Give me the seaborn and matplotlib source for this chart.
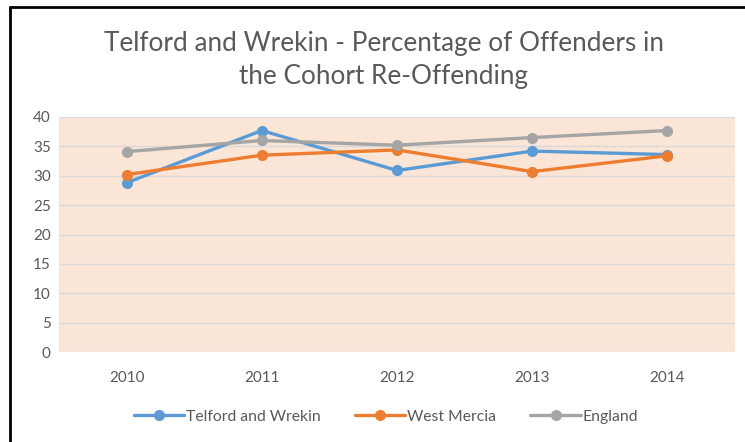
import matplotlib
matplotlib.use("Agg")
import matplotlib.pyplot as plt
from matplotlib.lines import Line2D
import numpy as np
import pandas as pd
import seaborn as sns

years = ["2010", "2011", "2012", "2013", "2014"]
series_names = ["Telford and Wrekin", "West Mercia", "England"]
telford = [28.8, 37.7, 30.9, 34.2, 33.6]
west_mercia = [30.2, 33.5, 34.4, 30.7, 33.4]
england = [34.1, 36.0, 35.2, 36.5, 37.7]
colors = ["#5B9BD5", "#ED7D31", "#A5A5A5"]

rows = []
for name, vals in zip(series_names, [telford, west_mercia, england]):
    for i, v in enumerate(vals):
        rows.append({"pos": i, "series": name, "value": v})
df = pd.DataFrame(rows)

sns.set_theme(style="white")
plt.rcParams["font.family"] = ["Lato", "DejaVu Sans"]
text_col = "#595959"

fig = plt.figure(figsize=(7.45, 4.42), dpi=100)
ax = fig.add_axes([0.0792, 0.2036, 0.9074, 0.5317])
ax.set_facecolor("#FBE5D6")

sns.lineplot(data=df, x="pos", y="value", hue="series", hue_order=series_names,
             palette=colors, marker="o", markersize=8, markeredgewidth=0,
             linewidth=2.4, ax=ax, legend=False, zorder=3)

ax.set_xlim(-0.5, len(years) - 0.5)
ax.set_ylim(0, 40)
ax.set_yticks(np.arange(0, 41, 5))
ax.set_xticks(range(len(years)))
ax.set_xticklabels(years)
ax.set_xlabel("")
ax.set_ylabel("")
ax.grid(axis="y", color="#D9D9D9", linewidth=1)
ax.set_axisbelow(True)
for s in ax.spines.values():
    s.set_visible(False)
ax.tick_params(axis="both", length=0, labelsize=11, labelcolor=text_col)
ax.tick_params(axis="x", pad=14)
ax.tick_params(axis="y", pad=6)

fig.text(0.515, 0.864, "Telford and Wrekin - Percentage of Offenders in\nthe Cohort Re-Offending",
         ha="center", va="center", fontsize=18.8, color=text_col, linespacing=1.38)

handles = [Line2D([], [], color=c, linewidth=2.4, marker="o", markersize=8,
                  markeredgewidth=0) for c in colors]
leg = fig.legend(handles, series_names, loc="center", bbox_to_anchor=(0.518, 0.057),
                 ncol=3, frameon=False, fontsize=11.3, handlelength=3.2,
                 handletextpad=0.1, columnspacing=2.2)
for t in leg.get_texts():
    t.set_color(text_col)

# black frame edges visible in the reference crop
fig.add_artist(Line2D([10 / 745, 10 / 745], [0, 1 - 7 / 442], color="black", linewidth=2,
                      transform=fig.transFigure))
fig.add_artist(Line2D([10 / 745, 1], [1 - 7 / 442, 1 - 7 / 442], color="black", linewidth=2,
                      transform=fig.transFigure))

fig.savefig("out.png", dpi=100)
